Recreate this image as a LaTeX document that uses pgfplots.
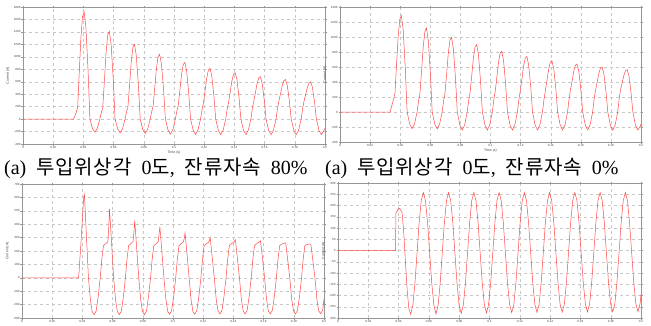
\documentclass[border=0pt]{standalone}
\usepackage{pgfplots}
\pgfplotsset{compat=1.18}
\usepackage{fontspec}
\setmainfont{Liberation Sans}
\newfontfamily\kr[LetterSpace=4]{Noto Sans CJK KR}
\newfontfamily\capserif{Liberation Serif}
\definecolor{curve}{RGB}{255,70,70}
\definecolor{framec}{RGB}{150,150,150}
\definecolor{gridc}{RGB}{200,200,200}
\pgfplotsset{panel/.style={
  scale only axis, xmin=0, xmax=0.2,
  axis line style={draw=framec, line width=0.4pt},
  grid=major, grid style={dashed, gridc, line width=0.3pt},
  tick style={draw=framec, line width=0.3pt}, major tick length=1.5pt, tick align=outside,
  xtick={0,0.02,0.04,0.06,0.08,0.1,0.12,0.14,0.16,0.18,0.2},
  xticklabels={0,0.02,0.04,0.06,0.08,0.1,0.12,0.14,0.16,0.18,0.2},
  ticklabel style={font=\fontsize{3}{3.5}\selectfont, text=black!75},
  xticklabel style={inner sep=0.8pt},
  yticklabel style={inner sep=0.8pt},
  /pgf/number format/assume math mode=true,
  /pgf/number format/1000 sep={},
  scaled ticks=false,
  label style={font=\fontsize{3.5}{4}\selectfont, text=black!75},
  ylabel={Current (A)},
}, wave/.style={draw=curve, line width=0.5pt, mark=none}}
\newcommand{\capsp}{\hspace{0.5em}}
\begin{document}
\begin{tikzpicture}
\useasboundingbox (0,0) rectangle (651pt,-325pt);
% ---------------- top left
\begin{axis}[panel, at={(23pt,-7pt)}, anchor=north west, width=302pt, height=137pt,
  ymin=-400, ymax=1800, ytick={-400,-200,0,200,400,600,800,1000,1200,1400,1600,1800},
  xlabel={Time (s)}, xlabel style={yshift=2pt}]
\addplot[wave] coordinates {
(0,0)(0.0335,0)(0.0350,90)(0.0362,180)(0.0372,719)(0.0383,1289)(0.0394,1643)(0.0405,1720)
(0.0417,1462)(0.0431,774)(0.0443,0)(0.0460,-151)(0.0476,-210)(0.0492,-151)(0.0509,0)(0.0519,108)(0.0528,180)(0.0539,611)(0.0550,1066)(0.0561,1349)
(0.05717,1410)(0.05837,1199)(0.05977,635)(0.06097,0)(0.06267,-158)(0.06427,-220)(0.06587,-158)(0.06757,0)(0.06857,114)(0.06947,190)(0.07057,544)(0.07167,917)(0.07277,1150)
(0.07383,1200)(0.07503,1020)(0.07643,540)(0.07763,0)(0.07933,-166)(0.08093,-230)(0.08253,-166)(0.08423,0)(0.08523,120)(0.08613,200)(0.08723,494)(0.08833,805)(0.08943,998)
(0.0905,1040)(0.0917,884)(0.0931,468)(0.0943,0)(0.0960,-173)(0.0976,-240)(0.0992,-173)(0.1009,0)(0.1019,132)(0.1028,220)(0.1039,462)(0.1050,717)(0.1061,876)
(0.10717,910)(0.10837,774)(0.10977,410)(0.11097,0)(0.11267,-176)(0.11427,-245)(0.11587,-176)(0.11757,0)(0.11857,150)(0.11947,250)(0.12057,448)(0.12167,657)(0.12277,787)
(0.12383,815)(0.12503,693)(0.12643,367)(0.12763,0)(0.12933,-180)(0.13093,-250)(0.13253,-180)(0.13423,0)(0.13523,162)(0.13613,270)(0.13723,436)(0.13833,612)(0.13943,721)
(0.1405,745)(0.1417,633)(0.1431,335)(0.1443,0)(0.1460,-180)(0.1476,-250)(0.1492,-180)(0.1509,0)(0.1519,168)(0.1528,280)(0.1539,420)(0.1550,568)(0.1561,660)
(0.15717,680)(0.15837,578)(0.15977,306)(0.16097,0)(0.16267,-180)(0.16427,-250)(0.16587,-180)(0.16757,0)(0.16857,174)(0.16947,290)(0.17057,411)(0.17167,538)(0.17277,618)
(0.17383,635)(0.17503,540)(0.17643,286)(0.17763,0)(0.17933,-180)(0.18093,-250)(0.18253,-180)(0.18423,0)(0.18523,174)(0.18613,290)(0.18723,397)(0.18833,510)(0.18943,580)
(0.1905,595)(0.1917,506)(0.1931,268)(0.1943,0)(0.1960,-180)(0.1976,-250)(0.1992,-185)(0.2000,-150)
};
\end{axis}
% ---------------- top right
\begin{axis}[panel, at={(340pt,-7pt)}, anchor=north west, width=301pt, height=135pt,
  ymin=-400, ymax=1400, ytick={-400,-200,0,200,400,600,800,1000,1200,1400},
  xlabel={Time (s)}, xlabel style={yshift=2pt}]
\addplot[wave] coordinates {
(0,0)(0.0333,0)(0.0349,120)(0.0365,240)(0.0375,606)(0.0386,992)(0.0397,1233)(0.0408,1285)
(0.0420,1092)(0.0434,578)(0.0446,0)(0.0463,-160)(0.0479,-222)(0.0495,-160)(0.0512,0)(0.0522,144)(0.0531,240)(0.0542,548)(0.0553,874)(0.0564,1076)
(0.05747,1120)(0.05867,952)(0.06007,504)(0.06127,0)(0.06297,-162)(0.06457,-225)(0.06617,-162)(0.06787,0)(0.06887,150)(0.06977,250)(0.07087,511)(0.07197,786)(0.07307,958)
(0.07413,995)(0.07533,846)(0.07673,448)(0.07793,0)(0.07963,-173)(0.08123,-240)(0.08283,-173)(0.08453,0)(0.08553,156)(0.08643,260)(0.08753,484)(0.08863,721)(0.08973,868)
(0.0908,900)(0.0920,765)(0.0934,405)(0.0946,0)(0.0963,-173)(0.0979,-240)(0.0995,-173)(0.1012,0)(0.1022,162)(0.1031,270)(0.1042,459)(0.1053,659)(0.1064,783)
(0.10747,810)(0.10867,689)(0.11007,365)(0.11127,0)(0.11297,-173)(0.11457,-240)(0.11617,-173)(0.11787,0)(0.11887,168)(0.11977,280)(0.12087,442)(0.12197,613)(0.12307,719)
(0.12413,742)(0.12533,631)(0.12673,334)(0.12793,0)(0.12963,-173)(0.13123,-240)(0.13283,-173)(0.13453,0)(0.13553,168)(0.13643,280)(0.13753,422)(0.13863,572)(0.13973,665)
(0.1408,685)(0.1420,582)(0.1434,308)(0.1446,0)(0.1463,-173)(0.1479,-240)(0.1495,-173)(0.1512,0)(0.1522,174)(0.1531,290)(0.1542,413)(0.1553,542)(0.1564,623)
(0.15747,640)(0.15867,544)(0.16007,288)(0.16127,0)(0.16297,-173)(0.16457,-240)(0.16617,-173)(0.16787,0)(0.16887,174)(0.16977,290)(0.17087,399)(0.17197,513)(0.17307,585)
(0.17413,600)(0.17533,510)(0.17673,270)(0.17793,0)(0.17963,-173)(0.18123,-240)(0.18283,-173)(0.18453,0)(0.18553,180)(0.18643,300)(0.18753,393)(0.18863,491)(0.18973,552)
(0.1908,565)(0.1920,480)(0.1934,254)(0.1946,0)(0.1963,-173)(0.1979,-240)(0.1995,-190)(0.2000,-160)
};
\end{axis}
% ---------------- bottom left
\begin{axis}[panel, at={(22pt,-184pt)}, anchor=north west, width=302pt, height=134pt,
  ymin=-300, ymax=700, ytick={-300,-200,-100,0,100,200,300,400,500,600,700}]
\addplot[wave] coordinates {
(0,0)(0.0375,0)(0.0390,250)(0.0402,480)(0.0408,590)(0.0413,630)
(0.0420,472)(0.0428,284)(0.0440,0)(0.0453,-165)(0.0465,-253)(0.0478,-275)(0.0491,-248)(0.0505,-138)(0.0518,0)(0.0528,132)
(0.05397,240)(0.05547,255)(0.05687,270)(0.05747,380)(0.05797,514)(0.05867,386)(0.05947,231)(0.06067,0)(0.06197,-165)(0.06317,-253)(0.06447,-275)(0.06577,-248)(0.06717,-138)(0.06847,0)(0.06947,132)
(0.07063,240)(0.07213,255)(0.07353,270)(0.07413,341)(0.07463,427)(0.07533,320)(0.07613,192)(0.07733,0)(0.07863,-165)(0.07983,-253)(0.08113,-275)(0.08243,-248)(0.08383,-138)(0.08513,0)(0.08613,132)
(0.0873,240)(0.0888,255)(0.0902,270)(0.0908,330)(0.0911,355)(0.0913,382)(0.0920,287)(0.0928,172)(0.0940,0)(0.0953,-163)(0.0965,-250)(0.0978,-272)(0.0991,-245)(0.1005,-136)(0.1018,0)(0.1028,131)
(0.10397,240)(0.10547,255)(0.10687,268)(0.10747,295)(0.10797,335)(0.10867,255)(0.10947,155)(0.11067,0)(0.11197,-163)(0.11317,-250)(0.11447,-272)(0.11577,-245)(0.11717,-136)(0.11847,0)(0.11947,131)
(0.12063,240)(0.12213,255)(0.12353,265)(0.12413,280)(0.12463,300)(0.12533,225)(0.12613,135)(0.12733,0)(0.12863,-162)(0.12983,-248)(0.13113,-270)(0.13243,-243)(0.13383,-135)(0.13513,0)(0.13613,130)
(0.1373,240)(0.1388,255)(0.1402,265)(0.1408,275)(0.1413,285)(0.1420,214)(0.1428,128)(0.1440,0)(0.1453,-162)(0.1465,-248)(0.1478,-270)(0.1491,-243)(0.1505,-135)(0.1518,0)(0.1528,130)
(0.15397,240)(0.15547,255)(0.15687,265)(0.15747,270)(0.15797,275)(0.15867,206)(0.15947,124)(0.16067,0)(0.16197,-162)(0.16317,-248)(0.16447,-270)(0.16577,-243)(0.16717,-135)(0.16847,0)(0.16947,130)
(0.17063,240)(0.17213,252)(0.17353,258)(0.17413,260)(0.17463,260)(0.17533,195)(0.17613,117)(0.17733,0)(0.17863,-162)(0.17983,-248)(0.18113,-270)(0.18243,-243)(0.18383,-135)(0.18513,0)(0.18613,130)
(0.1873,240)(0.1888,250)(0.1902,252)(0.1908,252)(0.1913,250)(0.1920,188)(0.1928,113)(0.1940,0)(0.1953,-161)(0.1965,-247)(0.1978,-268)(0.1991,-241)(0.2000,-160)
};
\end{axis}
% ---------------- bottom right
\begin{axis}[panel, at={(338pt,-183pt)}, anchor=north west, width=303pt, height=135pt,
  ymin=-300, ymax=300, ytick={-300,-250,-200,-150,-100,-50,0,50,100,150,200,250,300}]
\addplot[wave] coordinates {
(0,0)(0.0380,0)(0.0382,165)(0.0395,182)(0.0406,188)(0.0415,178)(0.0423,168)(0.0433,90)(0.0445,-50)(0.0457,-180)(0.0468,-260)
(0.04800,-283)(0.04939,-244)(0.05078,-146)(0.05217,-11)(0.05356,124)(0.05494,222)(0.05633,258)(0.05772,222)(0.05911,124)(0.06050,-11)(0.06189,-146)(0.06328,-244)
(0.06467,-282)(0.06606,-244)(0.06744,-146)(0.06883,-11)(0.07022,124)(0.07161,222)(0.07300,258)(0.07439,222)(0.07578,124)(0.07717,-11)(0.07856,-146)(0.07994,-244)
(0.08133,-280)(0.08272,-242)(0.08411,-146)(0.08550,-11)(0.08689,124)(0.08828,222)(0.08967,258)(0.09106,222)(0.09244,124)(0.09383,-11)(0.09522,-146)(0.09661,-242)
(0.09800,-277)(0.09939,-240)(0.10078,-144)(0.10217,-10)(0.10356,124)(0.10494,222)(0.10633,258)(0.10772,222)(0.10911,124)(0.11050,-10)(0.11189,-144)(0.11328,-240)
(0.11467,-276)(0.11606,-240)(0.11744,-144)(0.11883,-10)(0.12022,124)(0.12161,222)(0.12300,258)(0.12439,222)(0.12578,124)(0.12717,-10)(0.12856,-144)(0.12994,-240)
(0.13133,-275)(0.13272,-240)(0.13411,-144)(0.13550,-10)(0.13689,124)(0.13828,222)(0.13967,258)(0.14106,222)(0.14244,124)(0.14383,-10)(0.14522,-144)(0.14661,-240)
(0.14800,-274)(0.14939,-238)(0.15078,-143)(0.15217,-10)(0.15356,124)(0.15494,222)(0.15633,258)(0.15772,222)(0.15911,124)(0.16050,-10)(0.16189,-143)(0.16328,-238)
(0.16467,-273)(0.16606,-238)(0.16744,-143)(0.16883,-10)(0.17022,124)(0.17161,222)(0.17300,258)(0.17439,222)(0.17578,124)(0.17717,-10)(0.17856,-143)(0.17994,-238)
(0.18133,-272)(0.18272,-237)(0.18411,-142)(0.18550,-10)(0.18689,124)(0.18828,222)(0.18967,258)(0.19106,222)(0.19244,124)(0.19383,-10)(0.19522,-142)(0.19661,-237)
(0.19800,-272)(0.19939,-236)(0.2000,-195)
};
\end{axis}
% ---------------- captions
\node[anchor=base west, inner sep=0pt] at (4pt,-174pt)
  {\fontsize{20}{20}\selectfont\capserif (a)\capsp{\kr 투입위상각}\capsp 0{\kr 도},\capsp{\kr 잔류자속}\capsp 80\%};
\node[anchor=base west, inner sep=0pt] at (325pt,-174pt)
  {\fontsize{20}{20}\selectfont\capserif (a)\capsp{\kr 투입위상각}\capsp 0{\kr 도},\capsp{\kr 잔류자속}\capsp 0\%};
\end{tikzpicture}
\end{document}
